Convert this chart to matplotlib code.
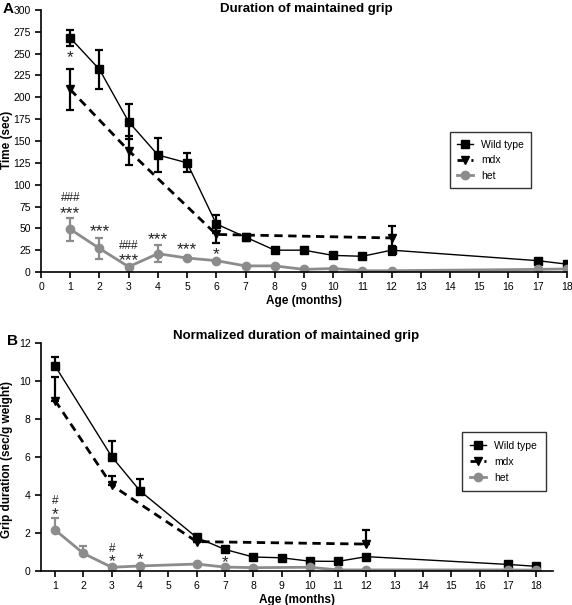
import matplotlib.pyplot as plt
from matplotlib.lines import Line2D

plt.rcParams['font.family'] = ['Liberation Sans', 'DejaVu Sans']

# Panel A - duration of maintained grip (sec)
ageA_wt = [1, 2, 3, 4, 5, 6, 7, 8, 9, 10, 11, 12, 17, 18]
timeA_wt = [268, 232, 172, 134, 125, 55, 40, 25, 25, 19, 18, 25, 13, 9]
errA_wt = [9, 22, 20, 20, 11, 10, 4, 0, 0, 0, 0, 5, 0, 0]

ageA_mdx = [1, 3, 6, 12]
timeA_mdx = [209, 139, 43, 39]
errA_mdx = [24, 17, 10, 14]

ageA_het = [1, 2, 3, 4, 5, 6, 7, 8, 9, 10, 11, 12, 17, 18]
timeA_het = [49, 27, 6, 21, 16, 13, 7, 7, 3, 4, 1.5, 1.5, 3, 3.5]
errA_het = [13, 12, 0, 10, 0, 0, 0, 0, 0, 0, 0, 0, 0, 0]

# significance marks for panel A: (age, y, text)
marksA = [(1, 245, '*'), (1, 67, '***'), (1, 85, '###'), (2, 46, '***'),
          (3, 13, '***'), (3, 30, '###'), (4, 37, '***'), (5, 26, '***'),
          (6, 20, '*')]

# Panel B - normalized duration (sec/g weight)
ageB_wt = [1, 3, 4, 6, 7, 8, 9, 10, 11, 12, 17, 18]
normB_wt = [10.77, 6.0, 4.2, 1.75, 1.12, 0.72, 0.68, 0.5, 0.49, 0.74, 0.33, 0.23]
errB_wt = [0.45, 0.8, 0.6, 0, 0, 0, 0, 0, 0, 0, 0, 0]

ageB_mdx = [1, 3, 6, 12]
normB_mdx = [8.95, 4.5, 1.53, 1.4]
errB_mdx = [1.25, 0.5, 0, 0.75]

ageB_het = [1, 2, 3, 4, 6, 7, 8, 10, 11, 12, 17, 18]
normB_het = [2.14, 0.91, 0.18, 0.25, 0.35, 0.19, 0.16, 0.18, 0.04, 0.04, 0.04, 0.03]
errB_het = [0.65, 0.4, 0, 0, 0, 0, 0, 0, 0, 0, 0, 0]

marksB = [(1, 2.95, '*'), (1, 3.65, '#'), (3, 0.5, '*'), (3, 1.15, '#'),
          (4, 0.6, '*'), (7, 0.45, '*')]

GRAY = '#8c8c8c'
styles = [
    dict(color='black', marker='s', ms=6, lw=1.0, ls='-', label='Wild type'),
    dict(color='black', marker='v', ms=6, lw=2.0, ls=(0, (3, 2)), label='mdx'),
    dict(color=GRAY, marker='o', ms=6, lw=2.0, ls='-', label='het'),
]

fig = plt.figure(figsize=(5.72, 6.05), dpi=100)
axA = fig.add_axes([0.0717, 0.5504, 0.9193, 0.4331])
axB = fig.add_axes([0.0717, 0.0567, 0.8953, 0.3769])


def draw(ax, series, lower):
    # panel B only shows the upper half of each error bar
    for (x, y, e), kw in zip(series, styles):
        yerr = [e, e] if lower else [[0] * len(e), e]
        ax.errorbar(x, y, yerr=yerr, capsize=3, elinewidth=1.6, capthick=1.6,
                    ecolor=kw['color'], **kw)


draw(axA, [(ageA_wt, timeA_wt, errA_wt), (ageA_mdx, timeA_mdx, errA_mdx),
           (ageA_het, timeA_het, errA_het)], True)
draw(axB, [(ageB_wt, normB_wt, errB_wt), (ageB_mdx, normB_mdx, errB_mdx),
           (ageB_het, normB_het, errB_het)], False)

for ax, marks in ((axA, marksA), (axB, marksB)):
    for x, y, t in marks:
        ax.text(x, y, t, ha='center', va='center',
                fontsize=12.5 if '*' in t else 8.5, color='#222222')

axA.set_xlim(0, 18)
axA.set_ylim(0, 300)
axA.set_xticks(range(0, 19))
axA.set_yticks(range(0, 301, 25))
axB.set_xlim(0.5, 18.6)
axB.set_ylim(0, 12)
axB.set_xticks(range(1, 19))
axB.set_yticks(range(0, 13, 2))

for ax in (axA, axB):
    for s in ('top', 'right'):
        ax.spines[s].set_visible(False)
    ax.spines['left'].set_linewidth(1.2)
    ax.spines['bottom'].set_linewidth(1.2)
    ax.tick_params(labelsize=7.5, length=4, width=1.2, direction='out')

axA.set_xlabel('Age (months)', fontsize=8.5, fontweight='bold', labelpad=2)
axB.set_xlabel('Age (months)', fontsize=8.5, fontweight='bold', labelpad=2)
fig.text(0.013, 0.768, 'Time (sec)', rotation=90, ha='center', va='center',
         fontsize=8.5, fontweight='bold')
fig.text(0.013, 0.241, 'Grip duration (sec/g weight)', rotation=90, ha='center',
         va='center', fontsize=8.5, fontweight='bold')

fig.text(0.535, 0.985, 'Duration of maintained grip', ha='center', va='center',
         fontsize=9.5, fontweight='bold')
fig.text(0.518, 0.444, 'Normalized duration of maintained grip', ha='center',
         va='center', fontsize=9.5, fontweight='bold')
fig.text(0.005, 0.985, 'A', fontsize=11, fontweight='bold', va='center')
fig.text(0.012, 0.437, 'B', fontsize=11, fontweight='bold', va='center')

handles = [Line2D([], [], **kw) for kw in styles]
legA = axA.legend(handles=handles, loc='upper left', bbox_to_anchor=(0.768, 0.553),
                  fontsize=7.5, frameon=True, fancybox=False, edgecolor='black',
                  handlelength=1.5, borderpad=0.7, labelspacing=0.55)
legA.get_frame().set_linewidth(1.0)
legB = axB.legend(handles=handles, loc='upper left', bbox_to_anchor=(0.812, 0.63),
                  fontsize=7.5, frameon=True, fancybox=False, edgecolor='black',
                  handlelength=1.5, borderpad=0.8, labelspacing=0.6)
legB.get_frame().set_linewidth(1.0)

fig.savefig('out.png', dpi=100)
